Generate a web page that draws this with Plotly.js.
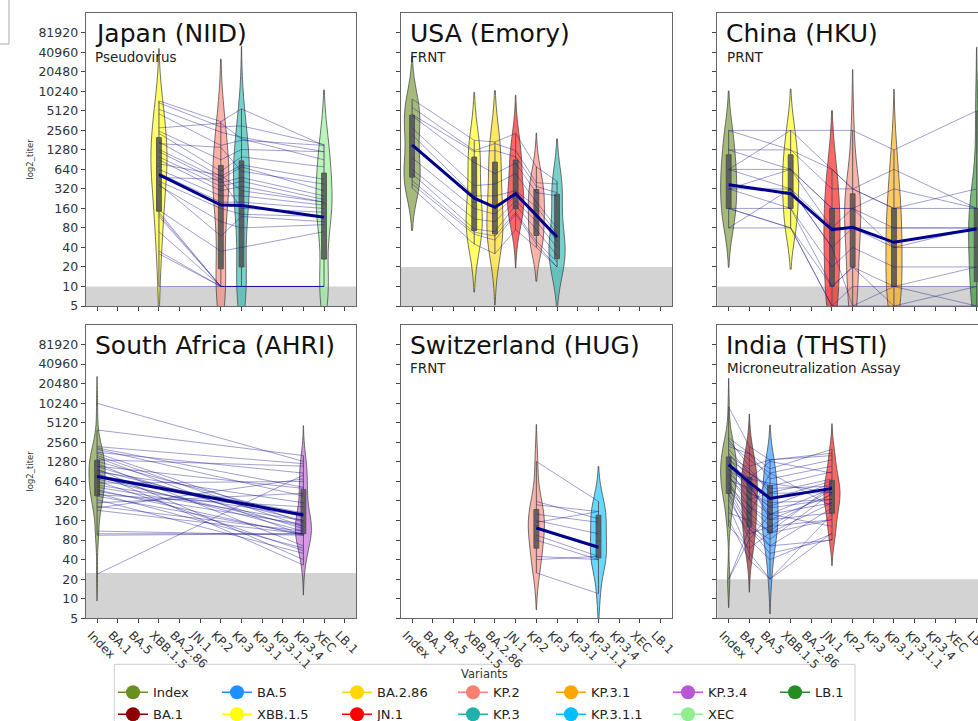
<!DOCTYPE html>
<html><head><meta charset="utf-8">
<script src="https://cdn.plot.ly/plotly-3.0.1.min.js"></script>
<style>html,body{margin:0;padding:0;overflow:hidden;background:#fff}#plot{width:1000px;height:730px}</style>
</head><body><div id="plot"></div>
<script>
// ---------- categories / colours / ticks ----------
const VARIANTS = ['Index','BA.1','BA.5','XBB.1.5','BA.2.86','JN.1','KP.2','KP.3','KP.3.1','KP.3.1.1','KP.3.4','XEC','LB.1'];
const COLORS = ['#6b8e23','#8b0000','#1e90ff','#ffff00','#ffd700','#ff0000','#fa8072','#20b2aa','#ffa500','#00bfff','#ba55d3','#90ee90','#228b22'];
const Y_TICKS = [5,10,20,40,80,160,320,640,1280,2560,5120,10240,20480,40960,81920];

// ---------- Japan (NIID) – Pseudovirus ----------
const JP_VARIANTS = ['XBB.1.5','KP.2','KP.3','XEC'];
const JP_XBB15 = [7300,6800,5400,4600,2800,2500,2300,1700,1600,1300,1200,1000,900,780,640,560,480,420,380,360,140,130,120,70,35,32,10,150];
const JP_KP2   = [3500,2900,2400,1500,3300,900,600,500,1400,450,400,350,300,520,250,200,450,160,60,100,10,10,10,10,10,10,10,35];
const JP_KP3   = [5500,3000,2000,1800,1900,1300,1000,750,600,700,480,420,350,300,250,200,160,130,120,80,10,10,10,10,10,10,10,40];
const JP_XEC   = [1500,1550,1200,1500,900,1200,700,450,380,300,250,220,200,200,180,160,140,120,100,90,10,10,10,10,10,10,10,70];
const JP_MEAN  = [530,180,178,117];
const JP_LOD = 10;

// ---------- USA (Emory) – FRNT ----------
const US_VARIANTS = ['Index','XBB.1.5','BA.2.86','JN.1','KP.2','KP.3'];
const US_INDEX  = [7800,5800,4500,4300,2800,2200,970,640,550,430,380,330];
const US_XBB15  = [1800,1250,1200,820,360,250,160,110,77,69,64,45];
const US_BA286  = [1700,1600,1250,550,380,250,130,100,70,60,52,32];
const US_JN1    = [2300,1250,1000,800,550,300,250,210,180,140,130,75];
const US_KP2    = [700,400,350,280,200,170,130,100,75,50,45,40];
const US_KP3    = [420,380,280,250,80,65,50,40,30,24,20,20];
const US_MEAN   = [1530,230,166,270,125,58];
const US_LOD = 20;

// ---------- China (HKU) – PRNT ----------
const CN_VARIANTS = ['Index','XBB.1.5','JN.1','KP.2','KP.3.1','LB.1'];
const CN_INDEX  = [2560,2560,1280,1280,640,640,640,320,320,320,160,160,80,80,160];
const CN_XBB15  = [2560,1280,1280,640,2560,640,320,640,320,160,160,80,320,80,80];
const CN_JN1    = [null,640,320,160,640,160,80,80,40,20,10,5,40,5,10];
const CN_KP2    = [2560,320,320,160,320,160,80,160,80,40,20,10,5,5,20];
const CN_KP31   = [1280,160,640,320,160,80,80,40,40,20,10,10,5,10,5];
const CN_LB1    = [5120,320,160,160,160,80,80,80,40,20,20,10,5,5,10];
const CN_MEAN   = [370,270,75,82,48,77];
const CN_LOD = 10;

// ---------- South Africa (AHRI) ----------
const ZA_VARIANTS = ['Index','KP.3.4'];
const ZA_INDEX = [10200,3970,2200,2100,2000,1800,1740,1600,1500,1375,1300,1200,1100,1085,1000,950,900,857,800,762,700,650,602,560,520,476,450,420,400,380,335,300,265,250,230,110,100,95,24];
const ZA_KP34  = [1300,1600,1200,520,380,860,150,130,95,1100,180,65,500,120,40,160,300,33,210,110,130,55,640,190,160,95,140,60,260,100,50,420,110,700,100,95,100,100,800];
const ZA_MEAN  = [760,195];
const ZA_LOD = 25;

// ---------- Switzerland (HUG) – FRNT ----------
const CH_VARIANTS = ['KP.2','KP.3.1.1'];
const CH_KP2   = [1300,315,280,200,160,150,120,95,80,45,40,25];
const CH_KP311 = [315,170,220,150,100,220,60,45,40,40,45,12];
const CH_MEAN  = [123,62];

// ---------- India (THSTI) – Microneutralization Assay ----------
const IN_VARIANTS = ['Index','BA.1','BA.5','JN.1'];
const IN_INDEX = [9000,3000,2800,2500,2200,2000,1740,1600,1500,1375,1300,1200,1085,1000,950,860,800,750,677,640,600,535,500,470,423,400,335,265,210,165,130,20,20];
const IN_BA1   = [2200,1740,1100,1375,1700,860,700,1000,540,860,430,700,540,340,600,430,265,340,500,200,165,265,130,210,120,82,100,51,160,40,60,82,120];
const IN_BA5   = [1375,1000,1375,860,700,540,1300,430,340,500,265,600,200,420,165,300,130,200,250,860,110,165,82,103,65,200,130,20,65,20,103,40,50];
const IN_JN1   = [1740,2000,1600,1375,1100,900,860,700,650,540,600,430,500,430,400,340,480,300,340,265,540,210,430,165,250,130,165,103,80,200,300,100,82];
const IN_MEAN  = [1160,620,350,500];
const IN_LOD = 20;

// ---------- build ----------
const W = 1000, H = 730;
const FONT = 'DejaVu Sans, Verdana, sans-serif';
const COL_X = [[85.7,356],[400.7,672],[717.3,988]];
const ROW_Y = [[13.3,306],[325,618.3]];
const L = v => (v == null ? null : Math.log2(v));
const pos = name => VARIANTS.indexOf(name);
function rgba(hex, a){const n=parseInt(hex.slice(1),16);return `rgba(${(n>>16)&255},${(n>>8)&255},${n&255},${a})`;}

const panels = [
  {title:'Japan (NIID)', sub:'Pseudovirus', vars:JP_VARIANTS, vals:[JP_XBB15,JP_KP2,JP_KP3,JP_XEC], mean:JP_MEAN, lod:JP_LOD},
  {title:'USA (Emory)', sub:'FRNT', vars:US_VARIANTS, vals:[US_INDEX,US_XBB15,US_BA286,US_JN1,US_KP2,US_KP3], mean:US_MEAN, lod:US_LOD},
  {title:'China (HKU)', sub:'PRNT', vars:CN_VARIANTS, vals:[CN_INDEX,CN_XBB15,CN_JN1,CN_KP2,CN_KP31,CN_LB1], mean:CN_MEAN, lod:CN_LOD},
  {title:'South Africa (AHRI)', sub:'', vars:ZA_VARIANTS, vals:[ZA_INDEX,ZA_KP34], mean:ZA_MEAN, lod:ZA_LOD},
  {title:'Switzerland (HUG)', sub:'FRNT', vars:CH_VARIANTS, vals:[CH_KP2,CH_KP311], mean:CH_MEAN, lod:null},
  {title:'India (THSTI)', sub:'Microneutralization Assay', vars:IN_VARIANTS, vals:[IN_INDEX,IN_BA1,IN_BA5,IN_JN1], mean:IN_MEAN, lod:IN_LOD}
];

const traces = [], shapes = [], annotations = [];
const layout = {
  width: W, height: H, margin:{l:0,r:0,t:0,b:0,autoexpand:false},
  paper_bgcolor:'#fff', plot_bgcolor:'#fff',
  font:{family:FONT, color:'#222'},
  violinmode:'overlay', showlegend:true, hovermode:false
};
const yMin = Math.log2(5), yMax = Math.log2(163840);

panels.forEach((p, i) => {
  const r = Math.floor(i/3), c = i % 3;
  const s = i === 0 ? '' : String(i+1);
  const xa = 'x'+s, ya = 'y'+s;
  layout['xaxis'+s] = {
    domain:[COL_X[c][0]/W, COL_X[c][1]/W], anchor: ya,
    range:[-0.55, 12.55], tickmode:'array', tickvals: VARIANTS.map((_,k)=>k), ticktext: VARIANTS,
    tickangle:45, ticklabelshift:-6, showticklabels: r === 1, ticks:'outside', ticklen:4, tickwidth:1, tickcolor:'#444',
    showline:true, mirror:true, linecolor:'#666', linewidth:1, showgrid:false, zeroline:false,
    tickfont:{family:FONT, size:12, color:'#333'}, fixedrange:true
  };
  layout['yaxis'+s] = {
    domain:[1-ROW_Y[r][1]/H, 1-ROW_Y[r][0]/H], anchor: xa,
    range:[yMin, yMax], tickmode:'array', tickvals: Y_TICKS.map(L), ticktext: Y_TICKS.map(String),
    showticklabels: c === 0, ticks:'outside', ticklen:4, tickwidth:1, tickcolor:'#444',
    showline:true, mirror:true, linecolor:'#666', linewidth:1, showgrid:false, zeroline:false,
    tickfont:{family:FONT, size:12.5, color:'#333'}, fixedrange:true
  };
  if (p.lod) {
    shapes.push({type:'rect', xref:xa+' domain', yref:ya, x0:0, x1:1, y0:yMin, y1:L(p.lod),
      fillcolor:'#d3d3d3', line:{width:0}, layer:'below'});
  }
  // violins
  p.vars.forEach((v, j) => {
    const ys = p.vals[j].filter(t => t != null).map(L);
    const k = pos(v);
    traces.push({type:'violin', xaxis:xa, yaxis:ya, x: ys.map(() => k), y: ys,
      width:0.78, scalemode:'width', spanmode:'soft', points:false,
      fillcolor: rgba(COLORS[k], 0.6), line:{color:'rgba(70,70,70,0.75)', width:1},
      box:{visible:true, width:0.3, fillcolor:'rgba(80,80,80,0.85)', line:{color:'rgba(80,80,80,0.9)', width:1}},
      meanline:{visible:false}, showlegend:false, hoverinfo:'skip'});
  });
  // individual sample lines
  const lx = [], ly = [];
  const n = p.vals[0].length;
  for (let q = 0; q < n; q++) {
    p.vars.forEach((v, j) => { const t = p.vals[j][q]; if (t != null) { lx.push(pos(v)); ly.push(L(t)); } });
    lx.push(null); ly.push(null);
  }
  traces.push({type:'scatter', mode:'lines', xaxis:xa, yaxis:ya, x:lx, y:ly,
    line:{color:'rgba(20,20,140,0.45)', width:0.9}, showlegend:false, hoverinfo:'skip'});
  // mean line
  traces.push({type:'scatter', mode:'lines', xaxis:xa, yaxis:ya, x:p.vars.map(pos), y:p.mean.map(L),
    line:{color:'#00008b', width:3}, showlegend:false, hoverinfo:'skip'});
  // titles
  const h = ROW_Y[r][1]-ROW_Y[r][0];
  annotations.push({xref:xa+' domain', yref:ya+' domain', x:0.03, y:1-4.7/h, xanchor:'left', yanchor:'top',
    text:p.title, showarrow:false, font:{family:FONT, size:25, color:'#111'}, borderpad:0});
  if (p.sub) annotations.push({xref:xa+' domain', yref:ya+' domain', x:0.031, y:1-34.3/h, xanchor:'left', yanchor:'top',
    text:p.sub, showarrow:false, font:{family:FONT, size:13.5, color:'#222'}, borderpad:0});
});

// y-axis titles
ROW_Y.forEach(rr => annotations.push({xref:'paper', yref:'paper', x:30/W, y:1-(rr[0]+rr[1])/2/H,
  text:'log2_titer', textangle:-90, showarrow:false, xanchor:'center', yanchor:'middle',
  font:{family:FONT, size:8.5, color:'#333'}}));

// legend frame + title
shapes.push({type:'rect', xref:'paper', yref:'paper', x0:114.3/W, x1:855/W, y0:1-745/H, y1:1-664.3/H,
  line:{color:'#cccccc', width:1}, fillcolor:'rgba(255,255,255,0.9)', layer:'below'});
annotations.push({xref:'paper', yref:'paper', x:484.5/W, y:1-674/H, text:'Variants', showarrow:false,
  xanchor:'center', yanchor:'middle', font:{family:FONT, size:11.5, color:'#333'}});
// corner bracket from the source screenshot
shapes.push({type:'path', xref:'paper', yref:'paper', path:`M ${9/W},1 L ${9/W},${1-44/H} L 0,${1-44/H}`,
  line:{color:'#aaaaaa', width:1}});

// legend entries: 7 columns x 2 rows, column-major
const LEG_COL_X = [133, 237, 357, 473, 571, 688, 795];
const LEG_ROW_Y = [692.3, 714.3];
VARIANTS.forEach((v, k) => {
  const key = k === 0 ? 'legend' : 'legend'+(k+1);
  const col = Math.floor(k/2), row = k % 2;
  traces.push({type:'scatter', mode:'lines+markers', x:[null], y:[null], xaxis:'x', yaxis:'y', name:v,
    legend:key, showlegend:true, line:{color:COLORS[k], width:1.5}, marker:{color:COLORS[k], size:14}});
  layout[key] = {x:(LEG_COL_X[col]-20)/W, y:1-LEG_ROW_Y[row]/H, xanchor:'left', yanchor:'middle',
    bgcolor:'rgba(0,0,0,0)', borderwidth:0, font:{family:FONT, size:13, color:'#222'}, orientation:'v'};
});

layout.shapes = shapes;
layout.annotations = annotations;
Plotly.newPlot('plot', traces, layout, {staticPlot:true, displayModeBar:false});
</script>
</body></html>
